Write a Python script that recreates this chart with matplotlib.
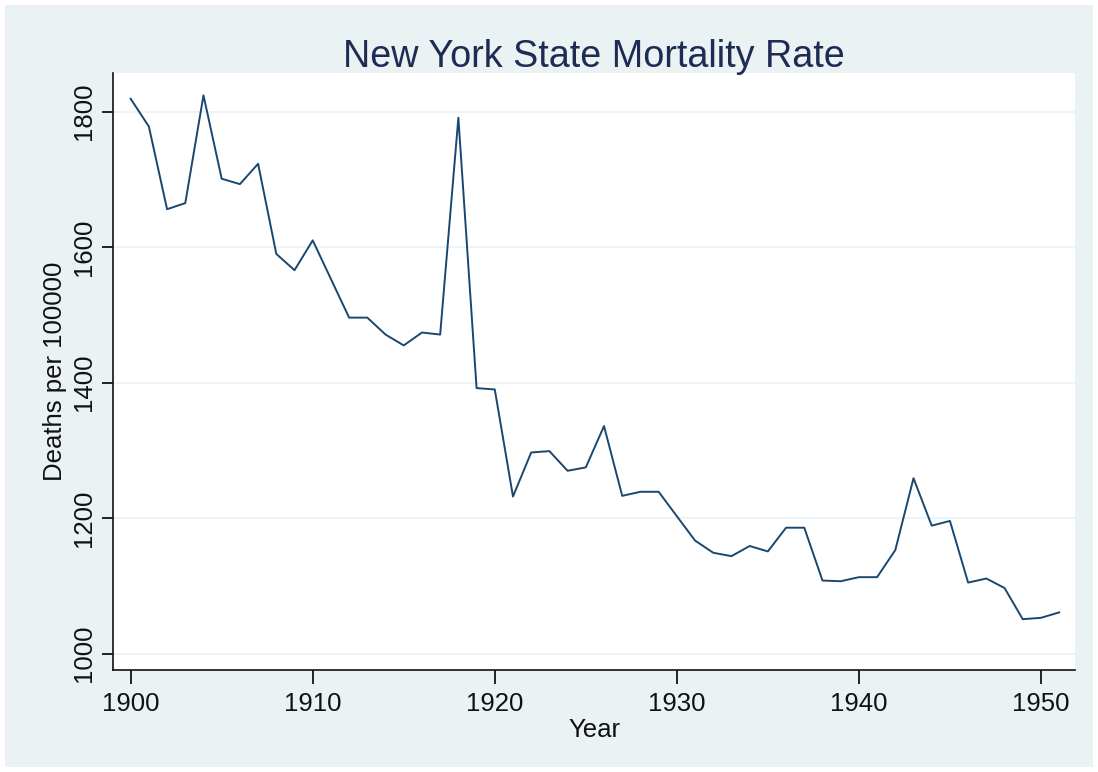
import matplotlib
matplotlib.use("Agg")
import matplotlib.pyplot as plt
from matplotlib.patches import Rectangle

plt.rcParams['font.family'] = ['Liberation Sans', 'DejaVu Sans']

# New York State deaths per 100000
years = list(range(1900, 1952))
deaths = [1819, 1778, 1656, 1665, 1824, 1701, 1693, 1723, 1590, 1566,
          1610, 1553, 1496, 1496, 1471, 1455, 1474, 1471, 1791, 1392,
          1390, 1232, 1297, 1299, 1270, 1275, 1336, 1233, 1239, 1239,
          1203, 1167, 1149, 1144, 1159, 1151, 1186, 1186, 1108, 1107,
          1113, 1113, 1153, 1259, 1189, 1196, 1105, 1111, 1097, 1051,
          1053, 1061]
xticks = [1900, 1910, 1920, 1930, 1940, 1950]
yticks = [1000, 1200, 1400, 1600, 1800]

bg = '#EAF2F3'
navy = '#1A476F'

fig = plt.figure(figsize=(10.98, 7.72), dpi=100)
fig.patches.append(Rectangle((5 / 1098, 5 / 772), 1088 / 1098, 762 / 772,
                             transform=fig.transFigure, facecolor=bg,
                             edgecolor='none', zorder=-10))

ax = fig.add_axes([113 / 1098, 102 / 772, 962 / 1098, 597 / 772])
ax.set_facecolor('white')
ax.plot(years, deaths, color=navy, linewidth=1.4, zorder=3)

ax.set_xlim(1899.03, 1951.87)
ax.set_ylim(976, 1857)
ax.set_xticks(xticks)
ax.set_yticks(yticks)
ax.grid(axis='y', color=bg, linewidth=1.2, zorder=0)

for s in ['top', 'right']:
    ax.spines[s].set_visible(False)
for s in ['left', 'bottom']:
    ax.spines[s].set_color('#111111')
    ax.spines[s].set_linewidth(1.2)

ax.tick_params(axis='x', direction='out', length=10, width=1.2, labelsize=18.5,
               pad=6, labelcolor='#111111')
ax.tick_params(axis='y', direction='out', length=8, width=1.2, labelsize=18.5,
               pad=4, labelcolor='#111111')
for lbl in ax.get_yticklabels():
    lbl.set_rotation(90)
    lbl.set_va('center')

ax.set_xlabel('Year', fontsize=18.5, labelpad=1, color='#111111')
ax.set_ylabel('Deaths per 100000', fontsize=18.5, labelpad=4, color='#111111')
fig.text(0.541, 0.926, 'New York State Mortality Rate', fontsize=27.2,
         color='#1E2C54', ha='center', va='center')

fig.savefig('out.png', dpi=100)
